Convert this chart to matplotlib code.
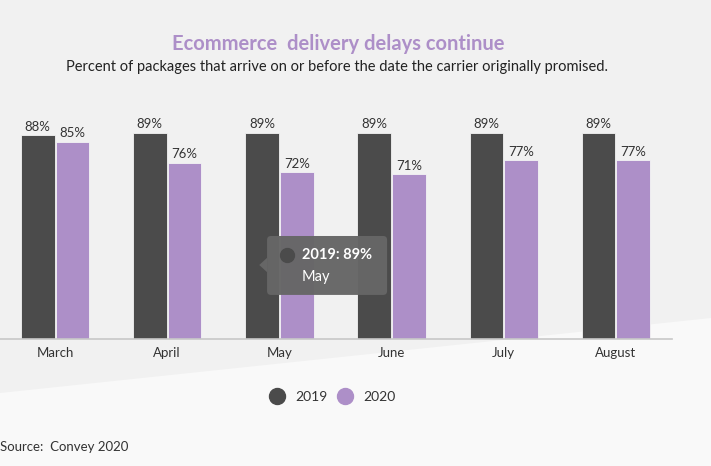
import matplotlib.pyplot as plt
import numpy as np
from matplotlib.patches import FancyBboxPatch, Polygon

plt.rcParams["font.family"] = ["Lato", "DejaVu Sans"]

MONTHS = ["March", "April", "May", "June", "July", "August"]
SERIES = ["2019", "2020"]
VALUES_2019 = [88, 89, 89, 89, 89, 89]
VALUES_2020 = [85, 76, 72, 71, 77, 77]
COLORS = {"2019": "#4b4b4b", "2020": "#ad8fc8"}

W, H = 711, 466
fig = plt.figure(figsize=(W / 100, H / 100), dpi=100)
fig.patch.set_facecolor("#f9f9f9")

# background: darker band above the diagonal
bg_ax = fig.add_axes([0, 0, 1, 1], zorder=-1)
bg_ax.set_xlim(0, 1)
bg_ax.set_ylim(0, 1)
bg_ax.axis("off")
bg_ax.add_patch(Polygon([(0, 1 - 393 / H), (1, 1 - 318 / H), (1, 1), (0, 1)],
                        closed=True, facecolor="#f1f1f1", edgecolor="none"))

ax = fig.add_axes([-1 / W, 1 - 339 / H, 673 / W, 232 / H], zorder=1)
ax.set_facecolor("none")

x = np.arange(len(MONTHS))
bw = 0.30
off = 0.155
b1 = ax.bar(x - off, VALUES_2019, bw, color=COLORS["2019"], edgecolor="#f4f4f4", linewidth=0.6, zorder=2)
b2 = ax.bar(x + off, VALUES_2020, bw, color=COLORS["2020"], edgecolor="#f4f4f4", linewidth=0.6, zorder=2)

for bars, vals in ((b1, VALUES_2019), (b2, VALUES_2020)):
    for rect, v in zip(bars, vals):
        ax.text(rect.get_x() + rect.get_width() / 2, v + 1.0, f"{v}%",
                ha="center", va="bottom", fontsize=9.5, color="#333333")

ax.set_xlim(-0.5, len(MONTHS) - 0.5)
ax.set_ylim(0, 100)
ax.set_yticks([])
ax.set_xticks(x)
ax.set_xticklabels(MONTHS, fontsize=9.5, color="#333333")
ax.tick_params(axis="x", length=0, pad=6)
for side in ("top", "left", "right"):
    ax.spines[side].set_visible(False)
ax.spines["bottom"].set_color("#c8c8c8")
ax.spines["bottom"].set_linewidth(1.2)

# tooltip over May
aspect = (673 / 6) / (232 / 100)
tip_x0, tip_x1 = 1.89, 2.96
tip_y0, tip_y1 = 19.0, 44.4
tip = FancyBboxPatch((tip_x0, tip_y0), tip_x1 - tip_x0, tip_y1 - tip_y0,
                     boxstyle="round,pad=0,rounding_size=0.035",
                     facecolor="#666666", edgecolor="none", alpha=0.97,
                     mutation_aspect=aspect, zorder=5)
ax.add_patch(tip)
ax.add_patch(Polygon([(tip_x0, 35.0), (tip_x0 - 0.07, 31.9), (tip_x0, 28.8)],
                     closed=True, facecolor="#666666", edgecolor="none", zorder=5))
ax.plot([2.07], [36.3], "o", ms=10, color="#4b4b4b", zorder=6)
ax.text(2.2, 36.3, f"{SERIES[0]}: {VALUES_2019[2]}%", fontsize=10.5, fontweight="bold",
        color="white", va="center", ha="left", zorder=7)
ax.text(2.2, 26.8, MONTHS[2], fontsize=10.5, color="white", va="center", ha="left", zorder=7)

# titles
fig.text(338 / W, 1 - 44 / H, "Ecommerce  delivery delays continue", ha="center", va="center",
         fontsize=14.5, fontweight="bold", color="#ad8fc8")
fig.text(337 / W, 1 - 67 / H, "Percent of packages that arrive on or before the date the carrier originally promised.",
         ha="center", va="center", fontsize=10.5, color="#222222")

# legend
handles = [plt.Line2D([], [], marker="o", ls="none", ms=11.5, color=COLORS[s]) for s in SERIES]
fig.legend(handles, SERIES, loc="center", bbox_to_anchor=(332 / W, 1 - 397 / H), ncol=2,
           frameon=False, fontsize=10, handletextpad=0.7, columnspacing=0.68,
           handlelength=1.2, labelcolor="#333333", borderpad=0, borderaxespad=0)

fig.text(0, 1 - 447 / H, "Source:  Convey 2020", ha="left", va="center", fontsize=9.5, color="#333333")

fig.savefig("out.png", dpi=100, facecolor=fig.get_facecolor())
